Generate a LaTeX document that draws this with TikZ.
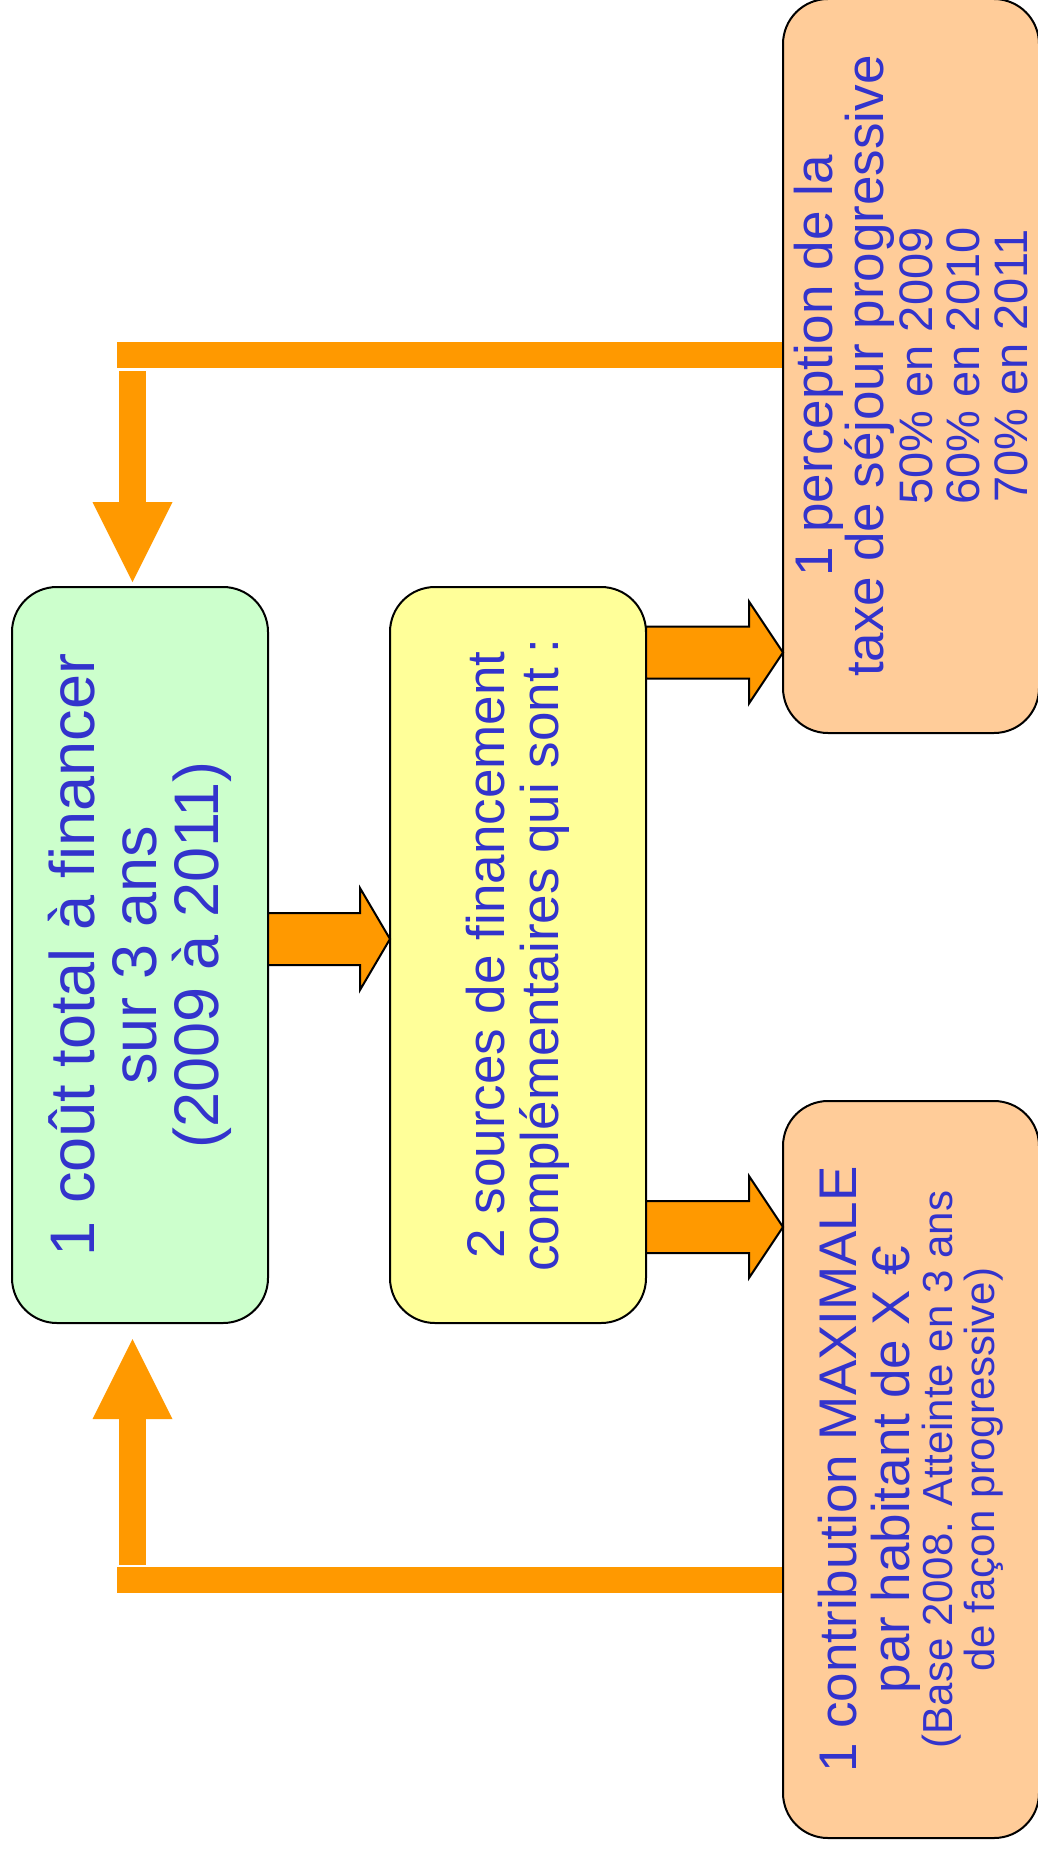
\documentclass[tikz,border=0pt]{standalone}
\usepackage{fontspec}
\setmainfont{Liberation Sans}
\usetikzlibrary{arrows.meta,calc,backgrounds}

\definecolor{txtblue}{HTML}{3333CC}
\definecolor{boxgreen}{HTML}{CCFFCC}
\definecolor{boxyellow}{HTML}{FFFF99}
\definecolor{boxpeach}{HTML}{FFCC99}
\definecolor{flow}{HTML}{FF9900}

% outlined block arrow from #1 to the tip #2, head length #3
\newcommand\blockarrow[3]{%
  \draw[flowblock] let \p1=(#1), \p2=(#2) in
    (\x1,\y1+26pt) -- (\x2-#3,\y1+26pt) -- (\x2-#3,\y1+51pt) -- (\x2,\y1)
    -- (\x2-#3,\y1-51pt) -- (\x2-#3,\y1-26pt) -- (\x1,\y1-26pt) -- cycle;}

\begin{document}
\begin{tikzpicture}[x=1pt,y=-1pt,
  box/.style={draw=black, line width=2pt, rounded corners=45pt,
    inner sep=0pt, outer sep=0pt, minimum width=256pt},
  boxtext/.style={rotate=90, align=center, text=txtblue, inner sep=0pt},
  feedbar/.style={draw=flow, line width=26pt},
  feedarrow/.style={draw=flow, line width=27pt,
    -{Triangle[length=80pt,width=80pt,line width=0pt]}},
  flowblock/.style={draw=black, line width=2pt, fill=flow, line join=miter},
]
\useasboundingbox (0,0) rectangle (1037,1849);

% boxes
\node[box, fill=boxgreen, minimum height=736pt] (cout) at (140,955) {};
\node[box, fill=boxyellow, minimum height=736pt] (sources) at (518,955) {};
\node[box, fill=boxpeach, minimum height=734pt] (taxe) at (911,366) {};
\node[box, fill=boxpeach, minimum height=737pt] (contrib) at (911,1469.5) {};

% box texts
\node[boxtext, font=\fontsize{63}{62}\selectfont] (coutText) at (cout.center)
  {1 coût total à financer\\sur 3 ans\\(2009 à 2011)};
\node[boxtext, font=\fontsize{53}{54}\selectfont] (sourcesText) at (sources.center)
  {2 sources de financement\\complémentaires qui sont :};
\node[boxtext, font=\fontsize{53}{51}\selectfont] (taxeText) at (taxe.center)
  {1 perception de la\\taxe de séjour progressive\\[-2pt]
   {\fontsize{47}{47}\selectfont 50\% en 2009}\\[-4pt]
   {\fontsize{47}{47}\selectfont 60\% en 2010}\\[-3pt]
   {\fontsize{47}{47}\selectfont 70\% en 2011}};
\node[boxtext, font=\fontsize{53}{53}\selectfont] (contribText) at (contrib.center)
  {1 contribution MAXIMALE\\par habitant de X €\\[-10pt]
   {\fontsize{42}{42}\selectfont (Base 2008. Atteinte en 3 ans}\\[-11pt]
   {\fontsize{42}{42}\selectfont de façon progressive)}};

% feedback lines from the two sources back to the total cost
\coordinate (topTurn) at (117,355);
\coordinate (botTurn) at (117,1580);
\coordinate (downStart) at (132.5,371);
\coordinate (upStart) at (132.5,1565);
\begin{scope}[on background layer]
  \draw[feedbar] (taxe.west |- topTurn) -- (topTurn);
  \draw[feedbar] (contrib.west |- botTurn) -- (botTurn);
\end{scope}
\draw[feedarrow, shorten >=5pt] (downStart) -- (downStart |- cout.north);
\draw[feedarrow, shorten >=16pt] (upStart) -- (upStart |- cout.south);

% block arrows between the boxes
\coordinate (a1) at ($(cout.east)+(0,-16)$);
\coordinate (a2) at ($(sources.east)+(0,-302.5)$);
\coordinate (a3) at ($(sources.east)+(0,272)$);
\blockarrow{a1}{a1 -| sources.west}{30pt}
\blockarrow{a2}{a2 -| taxe.west}{34pt}
\blockarrow{a3}{a3 -| contrib.west}{34pt}
\end{tikzpicture}
\end{document}
